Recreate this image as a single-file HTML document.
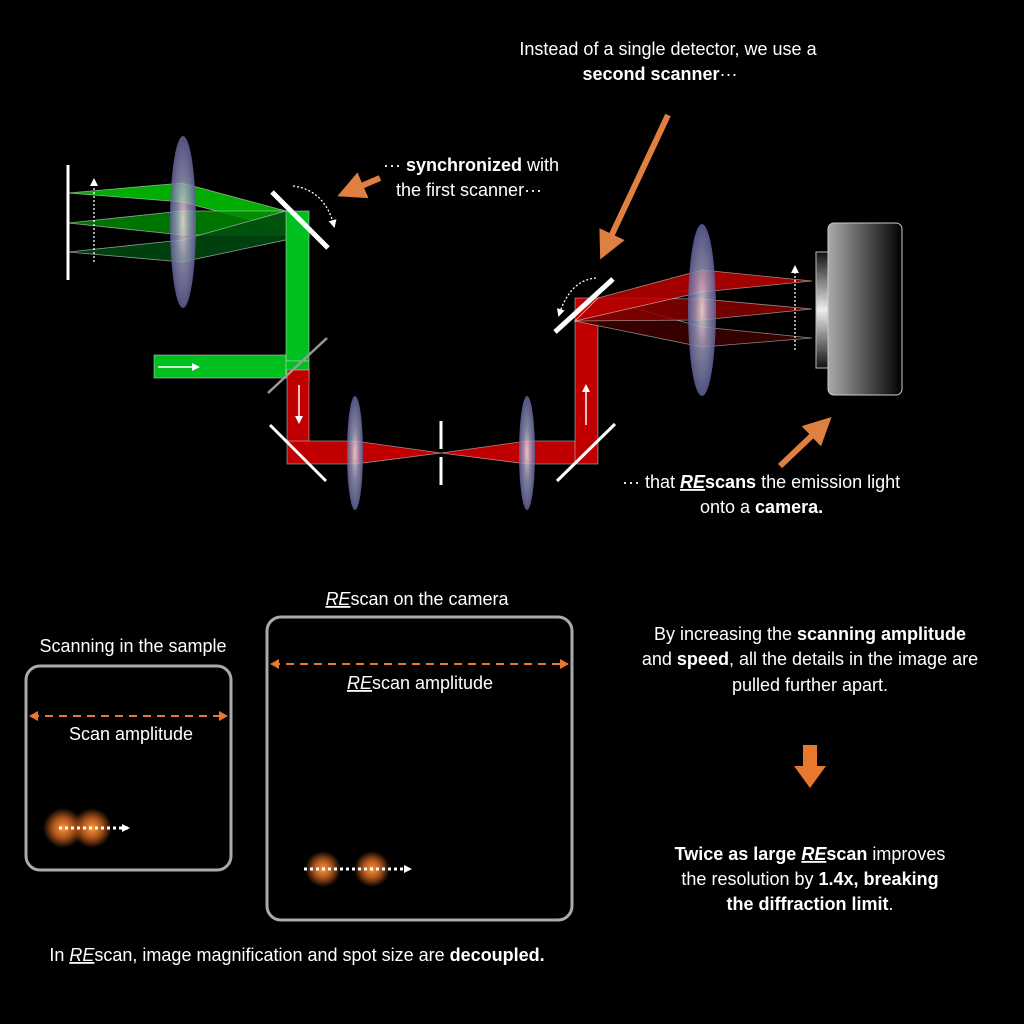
<!DOCTYPE html>
<html><head><meta charset="utf-8"><style>
html,body{margin:0;padding:0;background:#000;}
svg{display:block}
text{font-family:"Liberation Sans","DejaVu Sans",sans-serif;fill:#fff;font-size:18px}
.b{font-weight:bold}
.re{font-style:italic;text-decoration:underline;text-decoration-color:#c33}
</style></head><body>
<svg width="1024" height="1024" viewBox="0 0 1024 1024" xmlns="http://www.w3.org/2000/svg">
<defs>
<radialGradient id="lens" cx="0.5" cy="0.5" r="0.5">
<stop offset="0" stop-color="#f0d8d8" stop-opacity="0.9"/>
<stop offset="0.5" stop-color="#9a9ac0" stop-opacity="0.8"/>
<stop offset="1" stop-color="#5a5a90" stop-opacity="0.9"/>
</radialGradient>
<linearGradient id="cam" x1="0" x2="1">
<stop offset="0" stop-color="#aaa"/><stop offset="1" stop-color="#000"/>
</linearGradient>
<linearGradient id="sens" x1="0" y1="0" x2="0" y2="1">
<stop offset="0" stop-color="#111"/><stop offset="0.5" stop-color="#eee"/><stop offset="1" stop-color="#111"/>
</linearGradient>
<radialGradient id="spot"><stop offset="0" stop-color="#ff9a40"/><stop offset="0.5" stop-color="#d86a20" stop-opacity="0.8"/><stop offset="1" stop-color="#d86a20" stop-opacity="0"/></radialGradient>
<marker id="wa" markerWidth="8" markerHeight="8" refX="6" refY="4" orient="auto" markerUnits="userSpaceOnUse"><path d="M0,0 L8,4 L0,8z" fill="#fff"/></marker>
<marker id="oa" markerWidth="9" markerHeight="10" refX="7" refY="5" orient="auto-start-reverse" markerUnits="userSpaceOnUse"><path d="M0,0 L9,5 L0,10z" fill="#e8782e"/></marker>
<marker id="ob" markerWidth="28" markerHeight="28" refX="12" refY="14" orient="auto" markerUnits="userSpaceOnUse"><path d="M0,0 L28,14 L0,28z" fill="#e08040"/></marker>
</defs>

<!-- green section -->
<g stroke="#ccc" stroke-width="0.8" stroke-opacity="0.7">
<polygon points="68,193 182,183 286,211 309,235 182,202" fill="#00c000" fill-opacity="0.9"/>
<polygon points="68,223 182,211 286,211 309,235 182,235" fill="#008800" fill-opacity="0.85"/>
<polygon points="68,252 182,240 286,211 309,235 182,262" fill="#004a10" fill-opacity="0.85"/>
<rect x="286" y="211" width="23" height="150" fill="#00c020"/>
<rect x="154" y="355" width="132" height="23" fill="#00c020"/>
<polygon points="286,361 309,361 309,378 286,378" fill="#00c020"/>
</g>
<line x1="68" y1="165" x2="68" y2="280" stroke="#fff" stroke-width="3"/>
<line x1="94" y1="262" x2="94" y2="180" stroke="#fff" stroke-width="1.3" stroke-dasharray="2,2" marker-end="url(#wa)"/>
<line x1="272" y1="192" x2="328" y2="248" stroke="#fff" stroke-width="5"/>
<path d="M293,186 Q325,190 334,226" fill="none" stroke="#fff" stroke-width="1.3" stroke-dasharray="2,2" marker-end="url(#wa)"/>
<ellipse cx="183" cy="222" rx="13" ry="86" fill="url(#lens)"/>
<line x1="158" y1="367" x2="198" y2="367" stroke="#fff" stroke-width="1.5" marker-end="url(#wa)"/>

<!-- red relay -->
<g stroke="#ddd" stroke-width="0.8" stroke-opacity="0.6">
<rect x="287" y="370" width="22" height="94" fill="#c00000"/>
<polygon points="287,441 355,441 441,453 355,464 309,464" fill="#c00000"/>
<polygon points="441,453 527,441 598,441 575,464 527,464" fill="#c00000"/>
<rect x="575" y="298" width="23" height="166" fill="#c00000"/>
</g>
<line x1="268" y1="393" x2="327" y2="338" stroke="#999" stroke-width="2.5"/>
<line x1="270" y1="425" x2="326" y2="481" stroke="#fff" stroke-width="3"/>
<line x1="557" y1="481" x2="615" y2="424" stroke="#fff" stroke-width="3"/>
<line x1="441" y1="421" x2="441" y2="449" stroke="#fff" stroke-width="3"/>
<line x1="441" y1="457" x2="441" y2="485" stroke="#fff" stroke-width="3"/>
<line x1="299" y1="385" x2="299" y2="422" stroke="#fff" stroke-width="1.5" marker-end="url(#wa)"/>
<line x1="586" y1="425" x2="586" y2="386" stroke="#fff" stroke-width="1.5" marker-end="url(#wa)"/>
<ellipse cx="355" cy="453" rx="8" ry="57" fill="url(#lens)"/>
<ellipse cx="527" cy="453" rx="8" ry="57" fill="url(#lens)"/>

<!-- red fan to camera -->
<g stroke="#ddd" stroke-width="0.8" stroke-opacity="0.6">
<polygon points="598,298 702,327 812,338 702,347 575,321" fill="#3a0000" fill-opacity="0.9"/>
<polygon points="598,298 702,299 812,309 702,320 575,321" fill="#880000" fill-opacity="0.85"/>
<polygon points="598,298 702,270 812,281 702,292 575,321" fill="#c00000" fill-opacity="0.85"/>
</g>
<line x1="555" y1="332" x2="613" y2="279" stroke="#fff" stroke-width="5"/>
<path d="M596,278 Q570,280 559,315" fill="none" stroke="#fff" stroke-width="1.3" stroke-dasharray="2,2" marker-end="url(#wa)"/>
<ellipse cx="702" cy="310" rx="14" ry="86" fill="url(#lens)"/>
<line x1="795" y1="350" x2="795" y2="267" stroke="#fff" stroke-width="1.3" stroke-dasharray="2,2" marker-end="url(#wa)"/>
<rect x="816" y="252" width="12" height="116" fill="url(#sens)" stroke="#bbb" stroke-width="1"/>
<rect x="828" y="223" width="74" height="172" rx="6" fill="url(#cam)" stroke="#ccc" stroke-width="1"/>

<!-- orange arrows -->
<line x1="380" y1="178" x2="352" y2="190" stroke="#e08040" stroke-width="6" marker-end="url(#ob)"/>
<line x1="668" y1="115" x2="607" y2="245" stroke="#e08040" stroke-width="6" marker-end="url(#ob)"/>
<line x1="780" y1="466" x2="820" y2="428" stroke="#e08040" stroke-width="6" marker-end="url(#ob)"/>
<polygon points="803,745 817,745 817,766 826,766 810,788 794,766 803,766" fill="#e8782e"/>

<!-- top texts -->
<text x="668" y="55" text-anchor="middle">Instead of a single detector, we use a</text>
<text x="660" y="80" text-anchor="middle"><tspan class="b">second scanner</tspan>···</text>
<text x="383" y="171">··· <tspan class="b">synchronized</tspan> with</text>
<text x="396" y="196">the first scanner···</text>
<text x="622" y="488">··· that <tspan class="b"><tspan class="re">RE</tspan>scans</tspan> the emission light</text>
<text x="700" y="513">onto a <tspan class="b">camera.</tspan></text>

<!-- bottom section -->
<text x="417" y="605" text-anchor="middle"><tspan class="re">RE</tspan>scan on the camera</text>
<text x="133" y="652" text-anchor="middle">Scanning in the sample</text>
<rect x="26" y="666" width="205" height="204" rx="14" fill="none" stroke="#aaa" stroke-width="3"/>
<rect x="267" y="617" width="305" height="303" rx="14" fill="none" stroke="#aaa" stroke-width="3"/>
<line x1="31" y1="716" x2="226" y2="716" stroke="#e8782e" stroke-width="2" stroke-dasharray="8,6" marker-start="url(#oa)" marker-end="url(#oa)"/>
<line x1="272" y1="664" x2="567" y2="664" stroke="#e8782e" stroke-width="2" stroke-dasharray="8,6" marker-start="url(#oa)" marker-end="url(#oa)"/>
<text x="131" y="740" text-anchor="middle">Scan amplitude</text>
<text x="420" y="689" text-anchor="middle"><tspan class="re">RE</tspan>scan amplitude</text>
<circle cx="63" cy="828" r="20" fill="url(#spot)"/>
<circle cx="92" cy="828" r="20" fill="url(#spot)"/>
<circle cx="323" cy="869" r="18" fill="url(#spot)"/>
<circle cx="372" cy="869" r="18" fill="url(#spot)"/>
<line x1="59" y1="828" x2="128" y2="828" stroke="#fff" stroke-width="3" stroke-dasharray="3,3" marker-end="url(#wa)"/>
<line x1="304" y1="869" x2="410" y2="869" stroke="#fff" stroke-width="3" stroke-dasharray="3,3" marker-end="url(#wa)"/>
<text x="297" y="961" text-anchor="middle">In <tspan class="re">RE</tspan>scan, image magnification and spot size are <tspan class="b">decoupled.</tspan></text>

<text x="810" y="640" text-anchor="middle">By increasing the <tspan class="b">scanning amplitude</tspan></text>
<text x="810" y="665" text-anchor="middle">and <tspan class="b">speed</tspan>, all the details in the image are</text>
<text x="810" y="691" text-anchor="middle">pulled further apart.</text>
<text x="810" y="860" text-anchor="middle"><tspan class="b">Twice as large <tspan class="re">RE</tspan>scan</tspan> improves</text>
<text x="810" y="885" text-anchor="middle">the resolution by <tspan class="b">1.4x, breaking</tspan></text>
<text x="810" y="910" text-anchor="middle"><tspan class="b">the diffraction limit</tspan>.</text>
</svg>
</body></html>
